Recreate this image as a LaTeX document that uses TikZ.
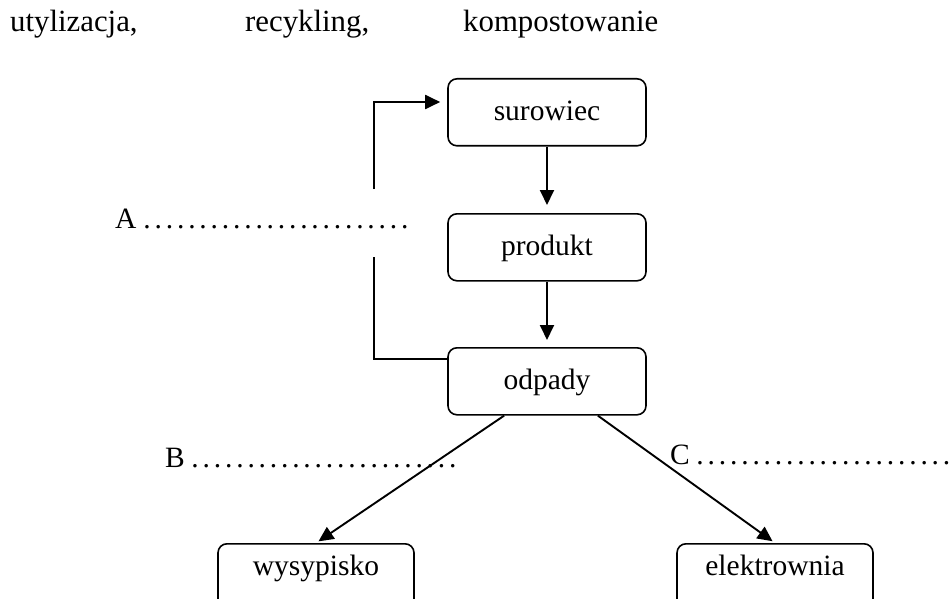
\documentclass[tikz,border=0pt]{standalone}
\usepackage{fontspec}
\setmainfont{Liberation Serif}
\usetikzlibrary{arrows.meta}
\newcommand{\dotrun}[1]{\hbox{\count255=0 \loop\ifnum\count255<#1 \hbox to 11.2pt{\hss.\hss}\advance\count255 by 1 \repeat}}
\begin{document}
\begin{tikzpicture}[x=1pt,y=-1pt,
  every node/.style={font=\fontsize{29.5pt}{34pt}\selectfont, inner sep=0pt},
  topbox/.style={draw, line width=1.6pt, rounded corners=9pt, minimum width=198pt,
    text height=42pt, text depth=25pt, anchor=north, align=center},
  lowbox/.style={draw, line width=1.6pt, rounded corners=9pt, minimum width=196pt,
    text height=32pt, text depth=35pt, anchor=north, align=center},
  word/.style={anchor=base west},
  headword/.style={anchor=base west, font=\fontsize{30.8pt}{36pt}\selectfont},
  conn/.style={line width=1.9pt},
  arr/.style={line width=1.9pt, -{Triangle[length=15pt,width=14pt]}}]
\useasboundingbox (0,0) rectangle (950,599);
\clip (0,0) rectangle (950,599);
% top words
\node[headword] (w1) at (10,32) {utylizacja,};
\node[headword] (w2) at (245,32) {recykling,};
\node[headword] (w3) at (463,32) {kompostowanie};
% boxes
\node[topbox] (sur) at (547,78) {surowiec};
\node[topbox] (pro) at (547,213) {produkt};
\node[topbox] (odp) at (547,347) {odpady};
\node[lowbox] (wys) at (316,543) {wysypisko};
\node[lowbox] (ele) at (775,543) {elektrownia};
% blanks
\node[word] (la) at (115,228) {\makebox[26.4pt][l]{A}\dotrun{24}};
\node[word] (lb) at (165,467) {\makebox[24.4pt][l]{B}\dotrun{24}};
\node[word] (lc) at (670,464) {\makebox[24.4pt][l]{C}\dotrun{23}};
% connectors
\draw[arr, shorten >=8pt] (sur) -- (pro);
\draw[arr, shorten >=7pt] (pro) -- (odp);
\coordinate (fbA) at (374,257);
\coordinate (fbB) at (374,189);
\draw[conn] ([yshift=-12pt]odp.north west) -| (fbA);
\draw[arr, shorten >=7pt] (fbB) |- ([yshift=-24pt]sur.north west);
\draw[arr, shorten >=3pt] ([xshift=57pt]odp.south west) -- (wys.north);
\draw[arr, shorten >=3pt] ([xshift=-49pt]odp.south east) -- (ele.north);
\end{tikzpicture}
\end{document}
